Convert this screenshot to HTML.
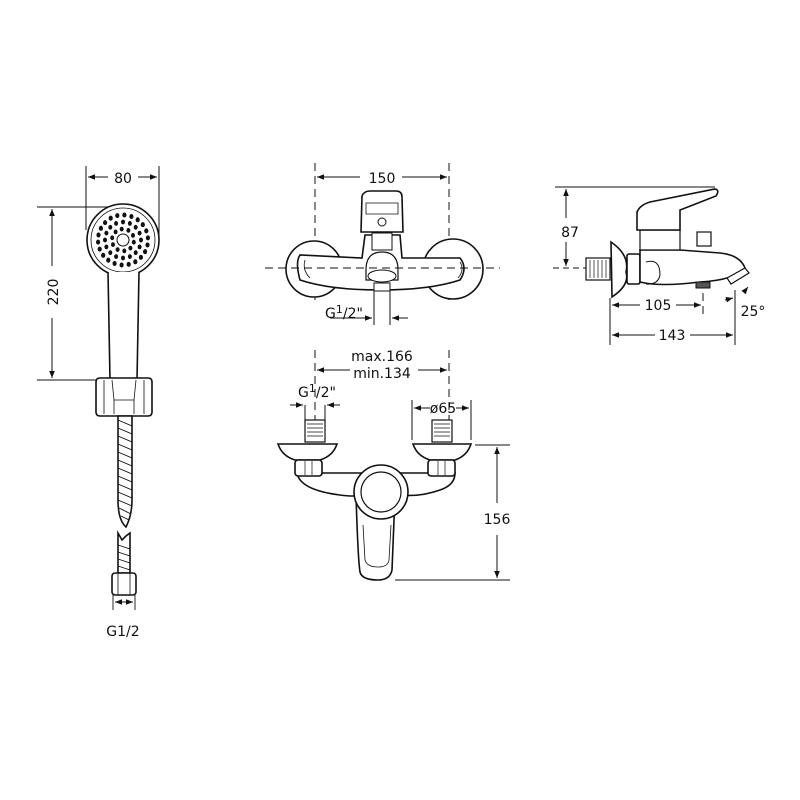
<!DOCTYPE html>
<html><head><meta charset="utf-8"><style>
html,body{margin:0;padding:0;background:#fff;}
svg{display:block;}
text{font-family:"DejaVu Sans","Liberation Sans",sans-serif;font-size:14px;fill:#111;}
</style></head><body>
<svg width="800" height="800" viewBox="0 0 800 800" xmlns="http://www.w3.org/2000/svg">
<defs>
<marker id="a" viewBox="0 0 10 10" refX="10" refY="5" markerWidth="9" markerHeight="7" orient="auto-start-reverse" markerUnits="userSpaceOnUse"><path d="M0,1 L10,5 L0,9 z" fill="#111"/></marker>
</defs>
<g stroke="#111" fill="none" stroke-width="1">
<!-- Hand shower dims -->
<line x1="86" y1="166" x2="86" y2="230"/>
<line x1="159" y1="166" x2="159" y2="240"/>
<line x1="88" y1="177" x2="108" y2="177" marker-start="url(#a)"/>
<line x1="138" y1="177" x2="157" y2="177" marker-end="url(#a)"/>
<line x1="37" y1="207" x2="125" y2="207"/>
<line x1="37" y1="380" x2="98" y2="380"/>
<line x1="52" y1="209" x2="52" y2="266" marker-start="url(#a)"/>
<line x1="52" y1="318" x2="52" y2="378" marker-end="url(#a)"/>
</g>
<g stroke="#111" fill="#fff" stroke-width="1.6">
<circle cx="123" cy="240" r="36"/>
<circle cx="123" cy="240" r="32" stroke-width="0.8"/>
<path d="M108,272 L110,380 L137,380 L139,272"/>
<path d="M96,382 Q96,378 100,378 L148,378 Q152,378 152,382 L152,412 Q152,416 148,416 L100,416 Q96,416 96,412 Z"/>
<path d="M104,380 L104,414 M144,380 L144,414 M112,380 L114,400 L134,400 L136,380 M114,400 L114,414 M134,400 L134,414" stroke-width="0.8"/>
<path d="M118,416 L118,500 Q118,520 126,527 Q132,515 132,500 L132,416 Z"/>
<path d="M118,533 L122,540 L126,536 L130,533 L130,573 L118,573 Z"/>
<rect x="112" y="573" width="24" height="22" rx="3"/>
<path d="M118,573 L118,595 M130,573 L130,595" stroke-width="0.8"/>
</g>
<g id="dots" fill="#111"></g>
<circle cx="123" cy="240" r="6" fill="none" stroke="#111" stroke-width="1"/>
<g stroke="#111" stroke-width="0.9">
<path d="M118,420 L132,426 M118,428 L132,434 M118,436 L132,442 M118,444 L132,450 M118,452 L132,458 M118,460 L132,466 M118,468 L132,474 M118,476 L132,482 M118,484 L132,490 M118,492 L132,498 M118,500 L132,506 M119,508 L131,514 M121,516 L129,520 M118,545 L130,549 M118,552 L130,556 M118,559 L130,563 M118,566 L130,570"/>
<line x1="113" y1="595" x2="113" y2="610"/>
<line x1="135" y1="595" x2="135" y2="610"/>
<line x1="115" y1="602" x2="133" y2="602" marker-start="url(#a)" marker-end="url(#a)"/>
</g>
<text x="123" y="183" text-anchor="middle">80</text>
<text transform="translate(58,292) rotate(-90)" text-anchor="middle">220</text>
<text x="123" y="636" text-anchor="middle">G1/2</text>

<!-- Middle top view -->
<g stroke="#111" fill="none" stroke-width="1">
<line x1="315" y1="163" x2="315" y2="300" stroke-dasharray="8,5"/>
<line x1="449" y1="163" x2="449" y2="300" stroke-dasharray="8,5"/>
<line x1="317" y1="177" x2="360" y2="177" marker-start="url(#a)"/>
<line x1="402" y1="177" x2="447" y2="177" marker-end="url(#a)"/>
</g>
<g stroke="#111" fill="#fff" stroke-width="1.6">
<circle cx="314" cy="269" r="28"/>
<circle cx="453" cy="269" r="30"/>
<path d="M300,255 Q295,262 300,280 Q330,290 380,290 Q430,290 460,280 Q468,268 460,258 L402,258 L400,235 L365,235 L362,258 Z"/>
<path d="M305,260 Q302,270 310,278 M460,262 Q465,270 458,278" stroke-width="0.8" fill="none"/>
<path d="M362,196 Q364,191 370,191 L396,191 Q402,191 402,197 L403,232 L361,232 Z"/>
<path d="M366,203 L398,203 L398,214 L366,214 Z" stroke-width="0.8"/>
<circle cx="382" cy="222" r="4" stroke-width="1"/>
<rect x="372" y="233" width="20" height="17" stroke-width="1"/>
<path d="M366,270 Q366,252 382,252 Q398,252 398,270 L398,280 L366,280 Z" stroke-width="1.2"/>
<ellipse cx="382" cy="276" rx="14" ry="6" stroke-width="1"/>
<rect x="374" y="283" width="16" height="8" stroke-width="1"/>
</g>
<g stroke="#111" fill="none" stroke-width="1">
<line x1="265" y1="268" x2="500" y2="268" stroke-dasharray="8,5"/>
<line x1="374" y1="291" x2="374" y2="325"/>
<line x1="390" y1="291" x2="390" y2="325"/>
<line x1="330" y1="318" x2="372" y2="318" marker-end="url(#a)"/>
<line x1="392" y1="318" x2="408" y2="318" marker-start="url(#a)"/>
</g>
<text x="344" y="318" text-anchor="middle">G<tspan dy="-5" font-size="11">1</tspan><tspan dy="5">/2"</tspan></text>
<text x="382" y="183" text-anchor="middle">150</text>

<!-- Middle bottom view -->
<g stroke="#111" fill="none" stroke-width="1">
<line x1="315" y1="350" x2="315" y2="420" stroke-dasharray="8,5"/>
<line x1="449" y1="350" x2="449" y2="420" stroke-dasharray="8,5"/>
<line x1="317" y1="370" x2="350" y2="370" marker-start="url(#a)"/>
<line x1="418" y1="370" x2="447" y2="370" marker-end="url(#a)"/>
<line x1="305" y1="405" x2="305" y2="420"/>
<line x1="325" y1="405" x2="325" y2="420"/>
<line x1="290" y1="405" x2="303" y2="405" marker-end="url(#a)"/>
<line x1="327" y1="405" x2="340" y2="405" marker-start="url(#a)"/>
<line x1="412" y1="400" x2="412" y2="440"/>
<line x1="471" y1="400" x2="471" y2="440"/>
<line x1="414" y1="408" x2="430" y2="408" marker-start="url(#a)"/>
<line x1="456" y1="408" x2="469" y2="408" marker-end="url(#a)"/>
<line x1="475" y1="445" x2="510" y2="445"/>
<line x1="395" y1="580" x2="510" y2="580"/>
<line x1="497" y1="447" x2="497" y2="503" marker-start="url(#a)"/>
<line x1="497" y1="535" x2="497" y2="578" marker-end="url(#a)"/>
</g>
<g stroke="#111" fill="#fff" stroke-width="1.6">
<path d="M297,473 Q300,490 340,495 Q355,497 360,495 L402,495 Q420,497 440,490 Q455,485 455,473 Z"/>
<rect x="305" y="420" width="20" height="22" stroke-width="1.2"/>
<path d="M278,444 L337,444 Q333,456 320,460 L295,460 Q282,456 278,444 Z"/>
<rect x="295" y="460" width="27" height="16" rx="3"/>
<rect x="432" y="420" width="20" height="22" stroke-width="1.2"/>
<path d="M413,444 L471,444 Q467,456 455,460 L430,460 Q417,456 413,444 Z"/>
<rect x="428" y="460" width="27" height="16" rx="3"/>
<path d="M356,495 Q358,560 360,572 Q362,580 378,580 Q390,580 392,570 L395,495" />
<circle cx="381" cy="492" r="27"/>
<circle cx="381" cy="492" r="20" stroke-width="1.2"/>
<path d="M363,525 L365,560 Q367,567 378,567 Q388,567 389,560 L391,525" stroke-width="0.8" fill="none"/>
</g>
<g stroke="#111" stroke-width="0.7">
<path d="M307,424 L323,424 M307,428 L323,428 M307,432 L323,432 M307,436 L323,436 M434,424 L450,424 M434,428 L450,428 M434,432 L450,432 M434,436 L450,436 M305,461 L305,475 M312,461 L312,475 M438,461 L438,475 M445,461 L445,475"/>
</g>
<text x="382" y="361" text-anchor="middle">max.166</text>
<text x="382" y="378" text-anchor="middle">min.134</text>
<text x="317" y="397" text-anchor="middle">G<tspan dy="-5" font-size="11">1</tspan><tspan dy="5">/2"</tspan></text>
<text x="443" y="413" text-anchor="middle">ø65</text>
<text x="497" y="524" text-anchor="middle">156</text>

<!-- Right side view -->
<g stroke="#111" fill="none" stroke-width="1">
<line x1="555" y1="187" x2="715" y2="187"/>
<line x1="553" y1="268" x2="620" y2="268" stroke-dasharray="6,4"/>
<line x1="566" y1="189" x2="566" y2="218" marker-start="url(#a)"/>
<line x1="566" y1="242" x2="566" y2="266" marker-end="url(#a)"/>
<line x1="610" y1="298" x2="610" y2="345"/>
<line x1="703" y1="280" x2="703" y2="318" stroke-dasharray="8,5"/>
<line x1="735" y1="290" x2="735" y2="345"/>
<line x1="612" y1="305" x2="640" y2="305" marker-start="url(#a)"/>
<line x1="676" y1="305" x2="701" y2="305" marker-end="url(#a)"/>
<line x1="612" y1="335" x2="655" y2="335" marker-start="url(#a)"/>
<line x1="690" y1="335" x2="733" y2="335" marker-end="url(#a)"/>
<line x1="725" y1="300" x2="733" y2="298" marker-end="url(#a)"/>
<line x1="748" y1="287" x2="744" y2="292" marker-start="url(#a)"/>
</g>
<g stroke="#111" fill="#fff" stroke-width="1.6">
<rect x="586" y="258" width="24" height="22" stroke-width="1.2"/>
<path d="M611,242 Q630,255 626,272 Q630,285 612,297 Z"/>
<rect x="627" y="254" width="13" height="30" rx="2"/>
<path d="M640,250 L640,282 Q660,287 700,282 Q735,280 745,268 Q740,255 720,253 L680,250 Z"/>
<path d="M640,240 L640,250 L680,250 L680,230 L640,230 Z" stroke-width="1.2"/>
<path d="M637,212 Q640,205 650,202 L715,189 Q720,190 716,196 L680,210 L680,230 L637,230 Z"/>
<rect x="697" y="232" width="14" height="14" stroke-width="1.2"/>
<rect x="696" y="282" width="14" height="6" fill="#555" stroke-width="1"/>
<path d="M727,278 L745,268 L749,273 L731,284 Z" stroke-width="1.2"/>
<path d="M646,262 Q660,258 660,275 Q658,285 646,284" stroke-width="1" fill="none"/>
</g>
<g stroke="#111" stroke-width="0.7">
<path d="M590,260 L590,278 M594,260 L594,278 M598,260 L598,278 M602,260 L602,278 M606,260 L606,278"/>
</g>
<text x="570" y="237" text-anchor="middle">87</text>
<text x="658" y="310" text-anchor="middle">105</text>
<text x="672" y="340" text-anchor="middle">143</text>
<text x="753" y="316" text-anchor="middle">25°</text>
</svg>
<script>
var g=document.getElementById('dots'),s='';
var rings=[[11,10,2],[18,16,2],[25,22,2.1]];
rings.forEach(function(r){for(var i=0;i<r[1];i++){var a=i*2*Math.PI/r[1]+(r[0]%2?0.2:0);s+='<ellipse cx="'+(123+r[0]*Math.cos(a)).toFixed(1)+'" cy="'+(240+r[0]*Math.sin(a)).toFixed(1)+'" rx="'+r[2]+'" ry="'+(r[2]*1.2)+'"/>';}});
g.innerHTML=s;
</script>
</body></html>
